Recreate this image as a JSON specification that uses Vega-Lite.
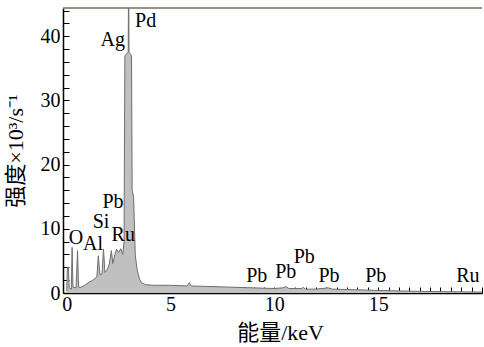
{
  "$schema": "https://vega.github.io/schema/vega-lite/v6.json",
  "autosize": "none",
  "width": 419,
  "height": 285,
  "padding": {"left": 63, "top": 8, "right": 2, "bottom": 54},
  "background": "white",
  "config": {
    "view": {"stroke": null},
    "axis": {
      "domainColor": "#000000",
      "domainWidth": 1.5,
      "tickColor": "#000000",
      "tickWidth": 1,
      "grid": false,
      "labelOverlap": false,
      "labelColor": "#000000",
      "titleColor": "#000000"
    }
  },
  "datasets": {
    "spectrum": [
      {"e": 0.0, "c": 0.3}, {"e": 0.03, "c": 4}, {"e": 0.08, "c": 4}, {"e": 0.12, "c": 0.8},
      {"e": 0.22, "c": 0.6}, {"e": 0.26, "c": 7.1}, {"e": 0.3, "c": 0.9}, {"e": 0.45, "c": 0.8},
      {"e": 0.52, "c": 6.6}, {"e": 0.57, "c": 0.9}, {"e": 0.7, "c": 0.9}, {"e": 0.9, "c": 1.3},
      {"e": 1.1, "c": 1.7}, {"e": 1.3, "c": 2.1}, {"e": 1.45, "c": 2.5}, {"e": 1.52, "c": 5.8},
      {"e": 1.6, "c": 2.8}, {"e": 1.7, "c": 3.0}, {"e": 1.77, "c": 6.8}, {"e": 1.84, "c": 3.2},
      {"e": 1.95, "c": 3.6}, {"e": 2.05, "c": 4.5}, {"e": 2.15, "c": 6.6}, {"e": 2.22, "c": 4.6},
      {"e": 2.32, "c": 6.0}, {"e": 2.4, "c": 6.8}, {"e": 2.5, "c": 6.3}, {"e": 2.6, "c": 6.9},
      {"e": 2.7, "c": 6.0}, {"e": 2.76, "c": 8}, {"e": 2.8, "c": 37}, {"e": 2.96, "c": 37.5},
      {"e": 2.98, "c": 50}, {"e": 3.0, "c": 37.5}, {"e": 3.12, "c": 37}, {"e": 3.15, "c": 16},
      {"e": 3.22, "c": 15}, {"e": 3.3, "c": 6}, {"e": 3.38, "c": 3.8}, {"e": 3.5, "c": 2.2},
      {"e": 3.6, "c": 1.6}, {"e": 3.8, "c": 1.3}, {"e": 4.2, "c": 1.2}, {"e": 5.0, "c": 1.2},
      {"e": 5.8, "c": 1.1}, {"e": 5.9, "c": 1.6}, {"e": 6.0, "c": 1.1}, {"e": 7.0, "c": 1.0},
      {"e": 8.0, "c": 0.9}, {"e": 9.0, "c": 0.8}, {"e": 10.0, "c": 0.7}, {"e": 10.4, "c": 0.8},
      {"e": 10.55, "c": 1.0}, {"e": 10.7, "c": 0.7}, {"e": 11.3, "c": 0.7}, {"e": 11.4, "c": 0.85},
      {"e": 11.5, "c": 0.6}, {"e": 12.0, "c": 0.6}, {"e": 12.6, "c": 0.8}, {"e": 12.8, "c": 0.6},
      {"e": 14.0, "c": 0.5}, {"e": 15.0, "c": 0.4}, {"e": 17.0, "c": 0.25}, {"e": 20.0, "c": 0.15}
    ],
    "labels": [
      {"label": "O", "e": 0.45, "c": 7.7},
      {"label": "Al", "e": 1.27, "c": 6.65},
      {"label": "Si", "e": 1.65, "c": 10.05},
      {"label": "Pb", "e": 2.23, "c": 13.2},
      {"label": "Ru", "e": 2.72, "c": 8.15},
      {"label": "Ag", "e": 2.22, "c": 38.5},
      {"label": "Pd", "e": 3.8, "c": 41.5},
      {"label": "Pb", "e": 9.15, "c": 1.72},
      {"label": "Pb", "e": 10.55, "c": 2.29},
      {"label": "Pb", "e": 11.44, "c": 4.63},
      {"label": "Pb", "e": 12.63, "c": 1.72},
      {"label": "Pb", "e": 14.88, "c": 1.72},
      {"label": "Ru", "e": 19.32, "c": 1.72}
    ],
    "frame": [
      {"e": -0.18, "e2": 20, "c": 44.4}
    ]
  },
  "encoding": {
    "x": {
      "field": "e", "type": "quantitative",
      "scale": {"domain": [-0.18, 20], "nice": false, "zero": false},
      "axis": {
        "title": "能量/keV",
        "format": "~g",
        "values": [0, 0.5, 1, 1.5, 2, 2.5, 3, 3.5, 4, 4.5, 5, 5.5, 6, 6.5, 7, 7.5, 8, 8.5, 9, 9.5, 10, 10.5, 11, 11.5, 12, 12.5, 13, 13.5, 14, 14.5, 15, 15.5, 16, 16.5, 17, 17.5, 18, 18.5, 19, 19.5, 20],
        "labelExpr": "(datum.value % 5 === 0 && datum.value < 20) ? datum.label : ''",
        "labelFont": "Liberation Serif",
        "labelFontSize": 20,
        "titleFont": "Liberation Serif, Noto Sans CJK SC",
        "titleFontSize": 22,
        "titleFontWeight": "normal",
        "titleX": 217,
        "tickSize": -6,
        "labelPadding": 7,
        "labelFlush": false,
        "labelOverlap": false,
        "titlePadding": 8
      }
    },
    "y": {
      "field": "c", "type": "quantitative",
      "scale": {"domain": [0, 44.4], "nice": false},
      "axis": {
        "title": "强度×10³/s⁻¹",
        "format": "~g",
        "values": [0, 2, 4, 6, 8, 10, 12, 14, 16, 18, 20, 22, 24, 26, 28, 30, 32, 34, 36, 38, 40, 42, 44],
        "labelExpr": "datum.value % 10 === 0 ? datum.label : ''",
        "labelFont": "Liberation Serif",
        "labelFontSize": 20,
        "titleFont": "Liberation Serif, Noto Sans CJK SC",
        "titleFontSize": 22,
        "titleFontWeight": "normal",
        "tickSize": -6,
        "labelPadding": 9,
        "labelOverlap": false,
        "titlePadding": 13
      }
    }
  },
  "layer": [
    {
      "data": {"name": "spectrum"},
      "mark": {"type": "area", "color": "#c0c0c0", "opacity": 1, "clip": true, "line": {"color": "#6e6e6e", "strokeWidth": 1}}
    },
    {
      "data": {"name": "labels"},
      "mark": {"type": "text", "font": "Liberation Serif", "fontSize": 20, "align": "center", "baseline": "alphabetic", "color": "#000000"},
      "encoding": {
        "text": {"field": "label", "type": "nominal"}
      }
    },
    {
      "data": {"name": "frame"},
      "mark": {"type": "rule", "color": "#7a6a62", "strokeWidth": 1.5},
      "encoding": {
        "x2": {"field": "e2"}
      }
    }
  ]
}
